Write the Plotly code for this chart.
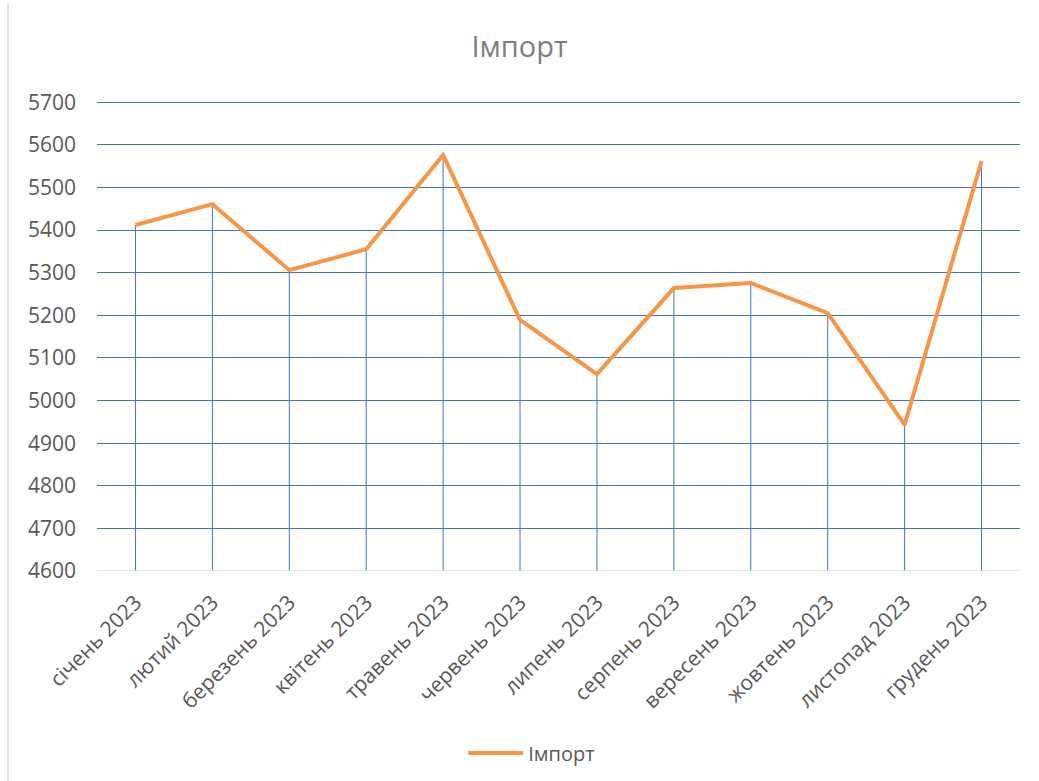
import plotly.graph_objects as go

categories = ["січень 2023", "лютий 2023", "березень 2023", "квітень 2023", "травень 2023",
              "червень 2023", "липень 2023", "серпень 2023", "вересень 2023", "жовтень 2023",
              "листопад 2023", "грудень 2023"]
values = [5412, 5461, 5306, 5355, 5576, 5189, 5062, 5264, 5276, 5205, 4943, 5562]
series_name = "Імпорт"
y_min, y_max, y_step = 4600, 5700, 100

# drop lines built from data
drop_x, drop_y = [], []
for c, v in zip(categories, values):
    drop_x += [c, c, None]
    drop_y += [y_min, v, None]

fig = go.Figure()
fig.add_trace(go.Scatter(x=drop_x, y=drop_y, mode="lines",
                         line=dict(color="#4472C4", width=1), showlegend=False, hoverinfo="skip"))
fig.add_trace(go.Scatter(x=categories, y=values, mode="lines", name=series_name,
                         line=dict(color="#F79646", width=4)))

fig.update_layout(
    width=1039, height=781,
    paper_bgcolor="white", plot_bgcolor="white",
    margin=dict(l=97, r=19, t=98, b=210, autoexpand=False),
    font=dict(family="Open Sans, sans-serif", color="#595959", size=21),
    title=dict(text=series_name, x=0.5, xanchor="center", y=0.9395, yanchor="middle",
               font=dict(size=29, color="#7F7F7F")),
    showlegend=True,
    legend=dict(orientation="h", x=0.471, xanchor="center", y=-0.385, yanchor="middle",
                itemwidth=55, font=dict(size=20, color="#595959")),
)
fig.update_xaxes(type="category", showgrid=False, tickangle=-45, ticks="",
                 showline=False, tickfont=dict(size=21), automargin=False,
                 range=[-0.5, len(categories) - 0.5], ticklabelstandoff=14)
fig.update_yaxes(range=[y_min, y_max + 10], dtick=y_step, tick0=y_min, showgrid=True,
                 gridcolor="#4472C4", gridwidth=1, zeroline=False, showline=False,
                 ticks="", ticklabelstandoff=20, tickfont=dict(size=21), automargin=False)
# bottom axis line in gray
fig.add_shape(type="line", xref="paper", yref="y", x0=0, x1=1, y0=y_min, y1=y_min,
              line=dict(color="#D9D9D9", width=1.5))
# chart area border at left
fig.add_shape(type="line", xref="paper", yref="paper", x0=-0.0964, x1=-0.0964, y0=-0.45, y1=1.2,
              line=dict(color="#D9D9D9", width=1.5))

fig.write_html("out.html", config={"displayModeBar": False},
               post_script="document.body.style.margin='0';")
